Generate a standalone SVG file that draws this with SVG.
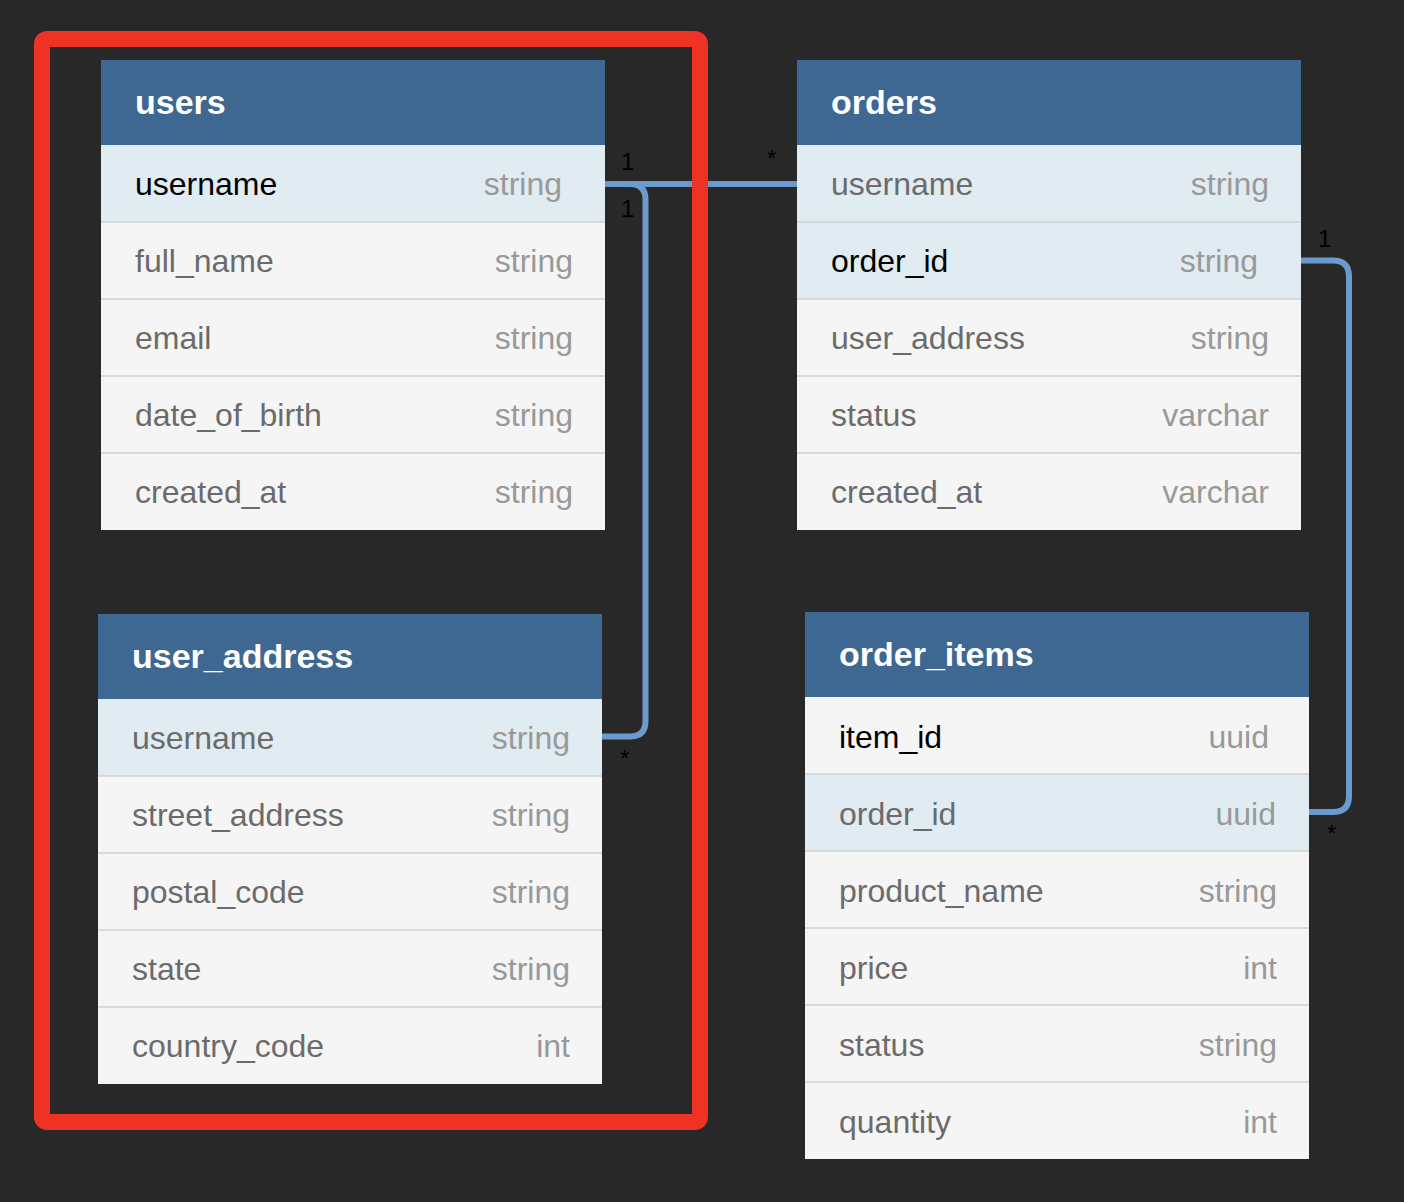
<svg xmlns="http://www.w3.org/2000/svg" width="1404" height="1202" viewBox="0 0 1404 1202">
<style>
.hdr{fill:#3e6891}
.hl{fill:#e0ebf2}
.rw{fill:#f5f5f5}
.sep{stroke:#d0d0d0;stroke-width:1.5}
.ht{font-family:"Liberation Sans",Arial,sans-serif;font-weight:bold;font-size:34px;fill:#ffffff}
.fk{font-family:"Liberation Sans",Arial,sans-serif;font-size:32px;fill:#000000}
.fn{font-family:"Liberation Sans",Arial,sans-serif;font-size:32px;fill:#6b6b6b}
.ty{font-family:"Liberation Sans",Arial,sans-serif;font-size:32px;fill:#999999;text-anchor:end}
.lbl{font-family:"Liberation Sans",Arial,sans-serif;font-size:24px;fill:#000000}
.conn{fill:none;stroke:#6a9bcc;stroke-width:6}
</style>
<rect x="0" y="0" width="1404" height="1202" fill="#282828"/>

<g id="users">
<rect class="hdr" x="101" y="60" width="504" height="85"/>
<text class="ht" x="135" y="114">users</text>
<rect class="hl" x="101" y="145" width="504" height="77"/>
<rect class="rw" x="101" y="222" width="504" height="308"/>
<line class="sep" x1="101" y1="222" x2="605" y2="222"/>
<line class="sep" x1="101" y1="299" x2="605" y2="299"/>
<line class="sep" x1="101" y1="376" x2="605" y2="376"/>
<line class="sep" x1="101" y1="453" x2="605" y2="453"/>
<text class="fk" x="135" y="195">username</text><text class="ty" x="562" y="195">string</text>
<text class="fn" x="135" y="272">full_name</text><text class="ty" x="573" y="272">string</text>
<text class="fn" x="135" y="349">email</text><text class="ty" x="573" y="349">string</text>
<text class="fn" x="135" y="426">date_of_birth</text><text class="ty" x="573" y="426">string</text>
<text class="fn" x="135" y="503">created_at</text><text class="ty" x="573" y="503">string</text>
</g>

<g id="user_address">
<rect class="hdr" x="98" y="614" width="504" height="85"/>
<text class="ht" x="132" y="668">user_address</text>
<rect class="hl" x="98" y="699" width="504" height="77"/>
<rect class="rw" x="98" y="776" width="504" height="308"/>
<line class="sep" x1="98" y1="776" x2="602" y2="776"/>
<line class="sep" x1="98" y1="853" x2="602" y2="853"/>
<line class="sep" x1="98" y1="930" x2="602" y2="930"/>
<line class="sep" x1="98" y1="1007" x2="602" y2="1007"/>
<text class="fn" x="132" y="749">username</text><text class="ty" x="570" y="749">string</text>
<text class="fn" x="132" y="826">street_address</text><text class="ty" x="570" y="826">string</text>
<text class="fn" x="132" y="903">postal_code</text><text class="ty" x="570" y="903">string</text>
<text class="fn" x="132" y="980">state</text><text class="ty" x="570" y="980">string</text>
<text class="fn" x="132" y="1057">country_code</text><text class="ty" x="570" y="1057">int</text>
</g>

<g id="orders">
<rect class="hdr" x="797" y="60" width="504" height="85"/>
<text class="ht" x="831" y="114">orders</text>
<rect class="hl" x="797" y="145" width="504" height="154"/>
<rect class="rw" x="797" y="299" width="504" height="231"/>
<line class="sep" x1="797" y1="222" x2="1301" y2="222"/>
<line class="sep" x1="797" y1="299" x2="1301" y2="299"/>
<line class="sep" x1="797" y1="376" x2="1301" y2="376"/>
<line class="sep" x1="797" y1="453" x2="1301" y2="453"/>
<text class="fn" x="831" y="195">username</text><text class="ty" x="1269" y="195">string</text>
<text class="fk" x="831" y="272">order_id</text><text class="ty" x="1258" y="272">string</text>
<text class="fn" x="831" y="349">user_address</text><text class="ty" x="1269" y="349">string</text>
<text class="fn" x="831" y="426">status</text><text class="ty" x="1269" y="426">varchar</text>
<text class="fn" x="831" y="503">created_at</text><text class="ty" x="1269" y="503">varchar</text>
</g>

<g id="order_items">
<rect class="hdr" x="805" y="612" width="504" height="85"/>
<text class="ht" x="839" y="666">order_items</text>
<rect class="rw" x="805" y="697" width="504" height="462"/>
<rect class="hl" x="805" y="774" width="504" height="77"/>
<line class="sep" x1="805" y1="774" x2="1309" y2="774"/>
<line class="sep" x1="805" y1="851" x2="1309" y2="851"/>
<line class="sep" x1="805" y1="928" x2="1309" y2="928"/>
<line class="sep" x1="805" y1="1005" x2="1309" y2="1005"/>
<line class="sep" x1="805" y1="1082" x2="1309" y2="1082"/>
<text class="fk" x="839" y="748">item_id</text><text class="ty" x="1269" y="748">uuid</text>
<text class="fn" x="839" y="825">order_id</text><text class="ty" x="1276" y="825">uuid</text>
<text class="fn" x="839" y="902">product_name</text><text class="ty" x="1277" y="902">string</text>
<text class="fn" x="839" y="979">price</text><text class="ty" x="1277" y="979">int</text>
<text class="fn" x="839" y="1056">status</text><text class="ty" x="1277" y="1056">string</text>
<text class="fn" x="839" y="1133">quantity</text><text class="ty" x="1277" y="1133">int</text>
</g>

<g id="connectors">
<path class="conn" d="M605 184 H630 Q645.5 184 645.5 199.5 V721 Q645.5 736.5 630 736.5 H602"/>
<path class="conn" d="M605 184 H797"/>
<path class="conn" d="M1301 260.5 H1333 Q1349 260.5 1349 276.5 V796 Q1349 812 1333 812 H1309"/>
<text class="lbl" x="621" y="170">1</text>
<text class="lbl" x="621" y="217">1</text>
<text class="lbl" x="767" y="167">*</text>
<text class="lbl" x="620" y="767">*</text>
<text class="lbl" x="1318" y="247">1</text>
<text class="lbl" x="1327" y="842">*</text>
</g>

<rect x="42" y="39" width="658" height="1083" rx="5" fill="none" stroke="#ee3224" stroke-width="16"/>
</svg>
